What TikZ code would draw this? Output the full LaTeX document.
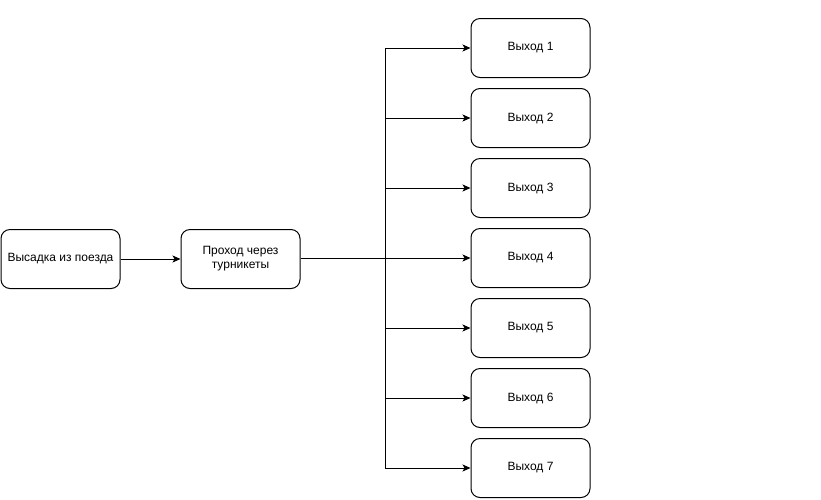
\documentclass[tikz,border=0pt]{standalone}
\usepackage{fontspec}
\setmainfont{Liberation Sans}
\usetikzlibrary{arrows.meta}
\begin{document}
\begin{tikzpicture}[x=1pt,y=-1pt,
  box/.style={draw=black,line width=1pt,rounded corners=9pt,minimum width=119pt,minimum height=59pt,align=center,font=\fontsize{12}{14}\selectfont,fill=white,inner sep=2pt},
  conn/.style={line width=1pt,-{Stealth[length=8pt,width=7pt,inset=2pt]}}]
\useasboundingbox (0,0) rectangle (821,499);
\node[box] (a) at (60.5,259) {Высадка из поезда};
\node[box] (b) at (240.5,259) {Проход через\\турникеты};
\foreach \i/\y in {1/48,2/118,3/188,4/258,5/328,6/398,7/468}{
  \node[box] (e\i) at (530.5,\y) {Выход \i};
}
\coordinate (j) at (385,258);
\draw[conn] (a) -- (b);
\draw[line width=1pt] (b.east |- j) -- (j);
\foreach \i in {1,...,7}{
  \draw[conn] (j) |- (e\i.west);
}
\end{tikzpicture}
\end{document}
